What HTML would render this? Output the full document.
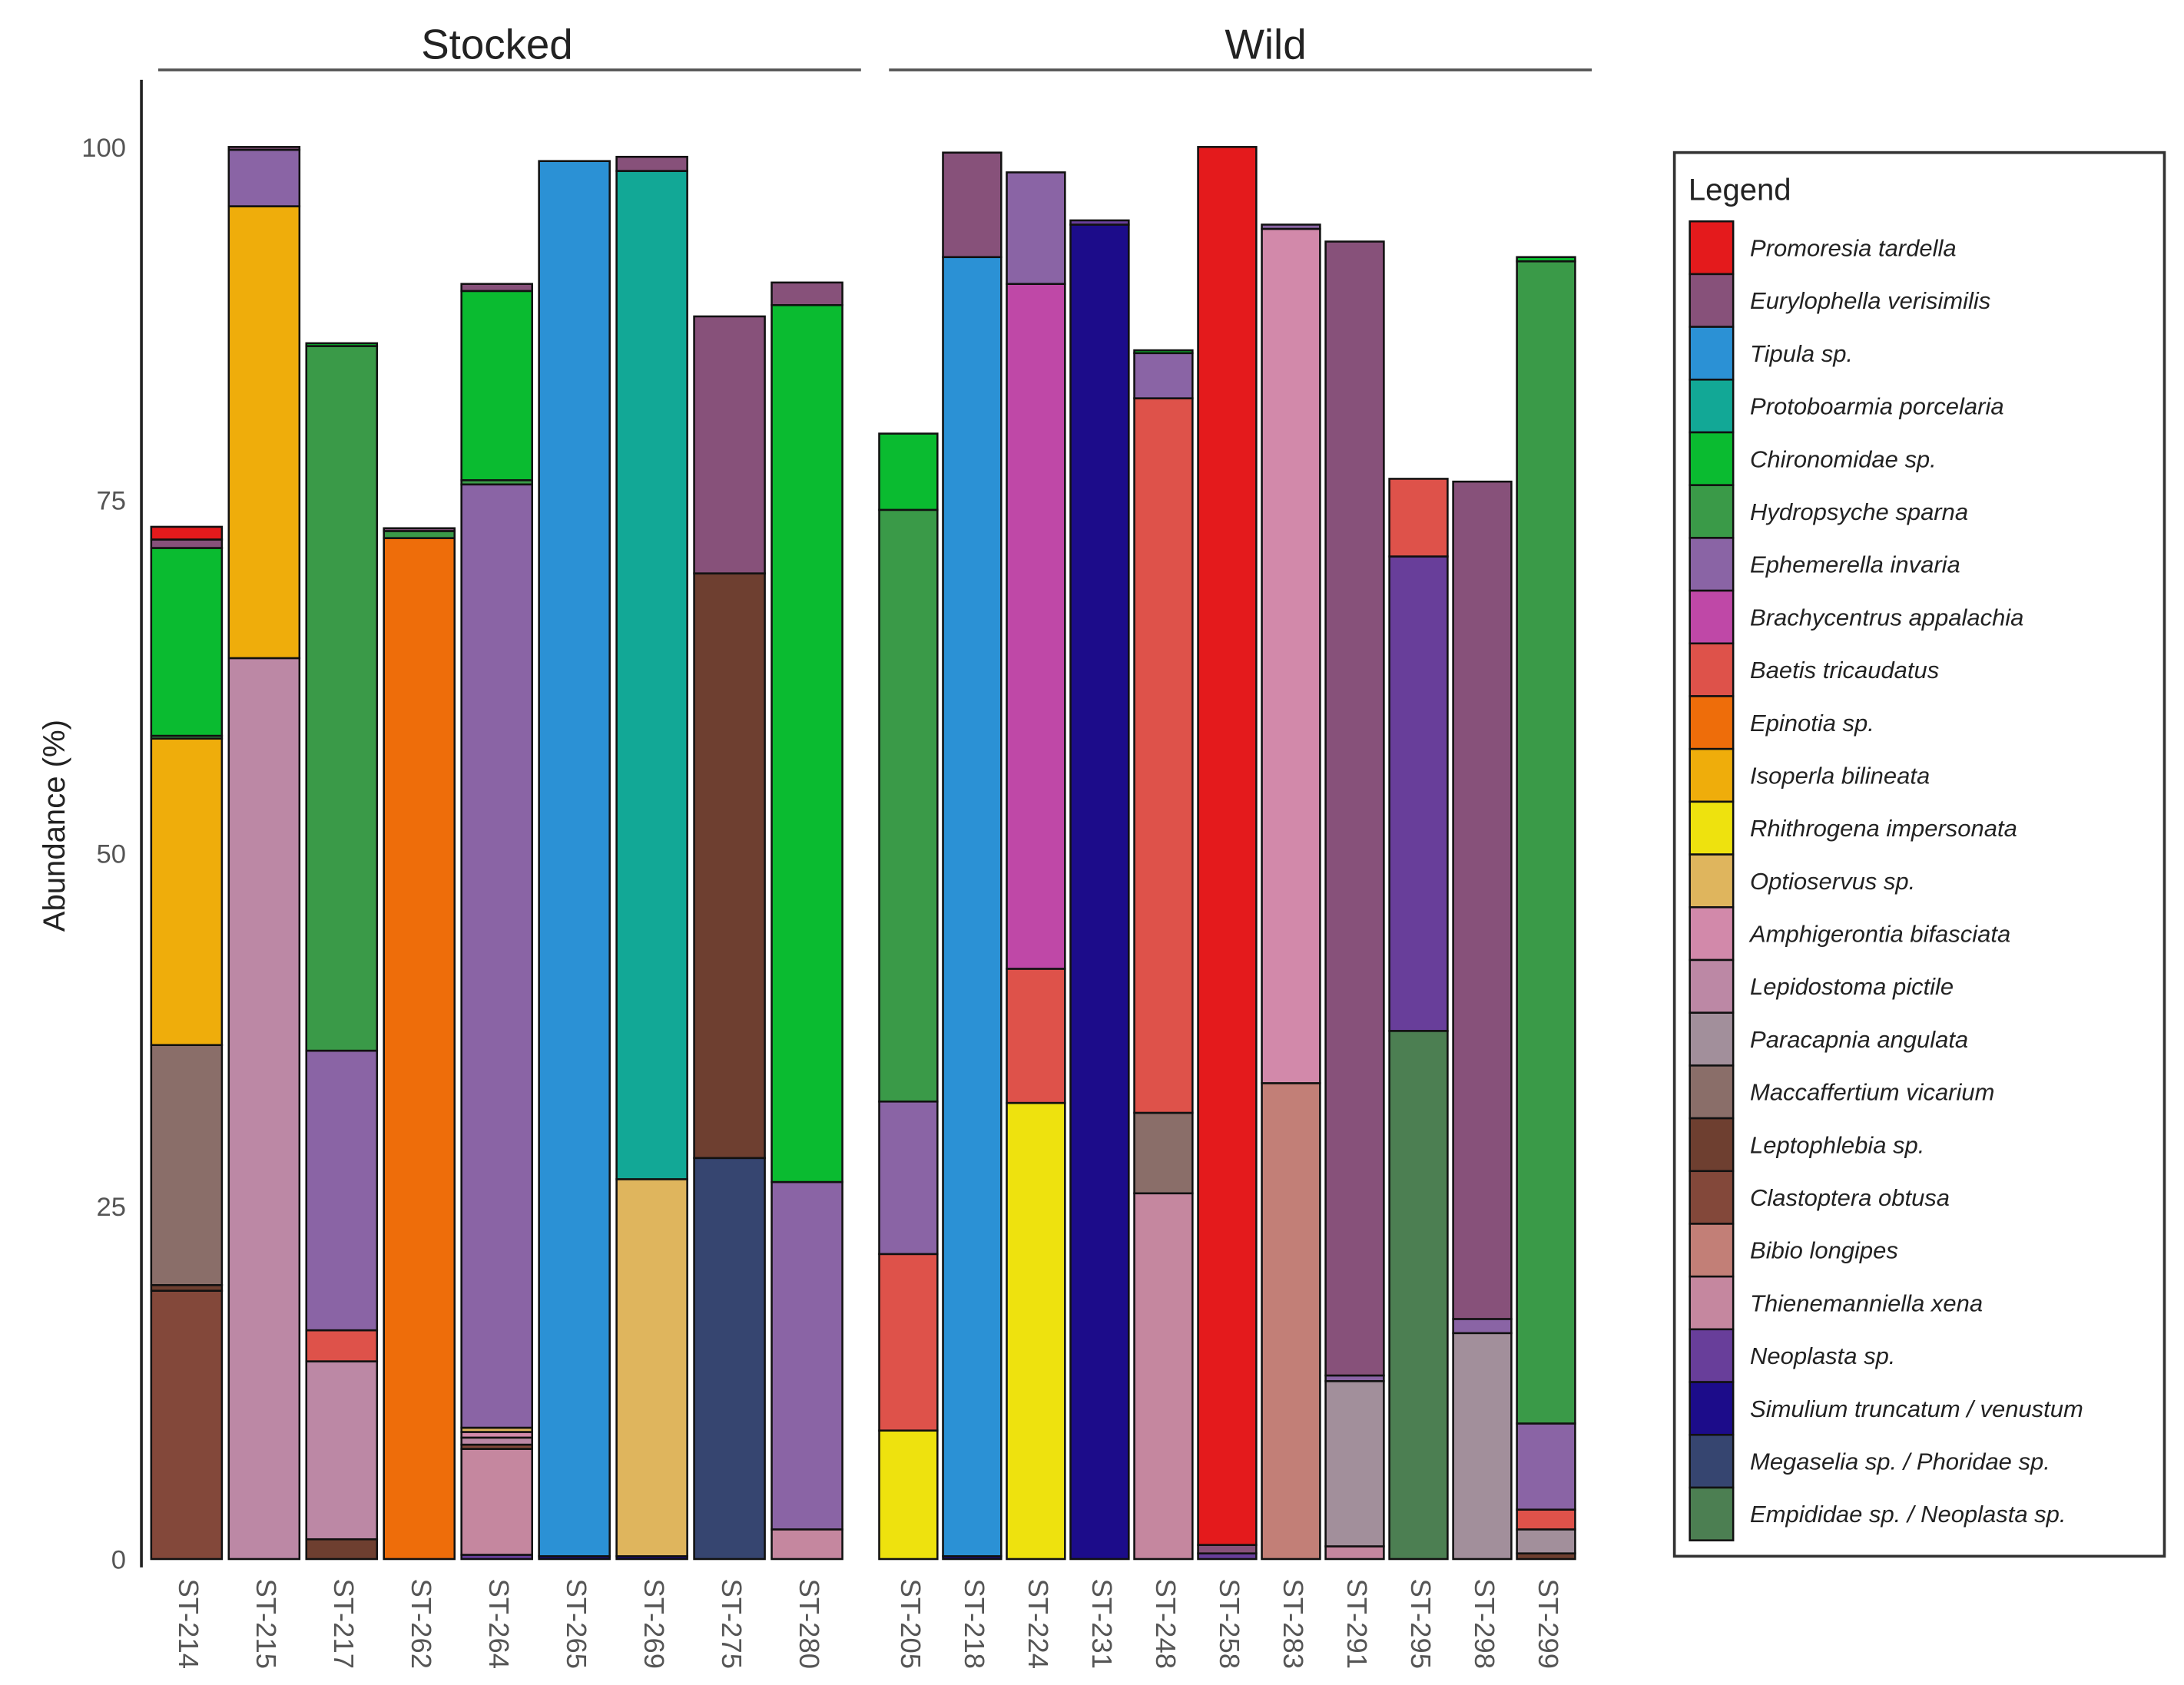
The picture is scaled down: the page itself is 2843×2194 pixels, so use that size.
<!DOCTYPE html>
<html><head><meta charset="utf-8"><style>
html,body{margin:0;padding:0;background:#fff;}
svg{display:block;font-family:"Liberation Sans",sans-serif;}
</style></head><body>
<svg id="chart" xmlns="http://www.w3.org/2000/svg" width="2843" height="2194" viewBox="0 0 1560 1204" preserveAspectRatio="none">
<text x="355" y="42" font-size="30" text-anchor="middle" fill="#222">Stocked</text>
<line x1="113" y1="50" x2="615" y2="50" stroke="#555" stroke-width="2"/>
<text x="904" y="42" font-size="30" text-anchor="middle" fill="#222">Wild</text>
<line x1="635" y1="50" x2="1137" y2="50" stroke="#555" stroke-width="2"/>
<line x1="101" y1="57" x2="101" y2="1120" stroke="#222" stroke-width="2"/>
<text transform="translate(46,590) rotate(-90)" font-size="22" text-anchor="middle" fill="#222">Abundance (%)</text>
<g id="yticks"></g><g id="bars"></g><g id="xlabels"></g>
<rect x="1196" y="109" width="350" height="1003" fill="#fff" stroke="#333" stroke-width="2"/>
<text x="1206" y="143" font-size="22" fill="#222">Legend</text>
<g id="legend"></g>
</svg>
<script>
const samples = ["ST-214","ST-215","ST-217","ST-262","ST-264","ST-265","ST-269","ST-275","ST-280","ST-205","ST-218","ST-224","ST-231","ST-248","ST-258","ST-283","ST-291","ST-295","ST-298","ST-299"];
const groups = ["Stocked","Stocked","Stocked","Stocked","Stocked","Stocked","Stocked","Stocked","Stocked","Wild","Wild","Wild","Wild","Wild","Wild","Wild","Wild","Wild","Wild","Wild"];
const yTicks = [0,25,50,75,100];
const species = ["Promoresia tardella","Eurylophella verisimilis","Tipula sp.","Protoboarmia porcelaria","Chironomidae sp.","Hydropsyche sparna","Ephemerella invaria","Brachycentrus appalachia","Baetis tricaudatus","Epinotia sp.","Isoperla bilineata","Rhithrogena impersonata","Optioservus sp.","Amphigerontia bifasciata","Lepidostoma pictile","Paracapnia angulata","Maccaffertium vicarium","Leptophlebia sp.","Clastoptera obtusa","Bibio longipes","Thienemanniella xena","Neoplasta sp.","Simulium truncatum / venustum","Megaselia sp. / Phoridae sp.","Empididae sp. / Neoplasta sp."];
const colors = ["#E41A1C","#87517A","#2B91D5","#12A896","#0ABB30","#3A9A48","#8A64A5","#BF48A7","#DE524A","#EE6D0A","#EFAD0B","#EEE20E","#DFB55D","#D289AA","#BC88A5","#A28F9B","#8A6E69","#6E3F30","#83483A","#C27F77","#C5879F","#683E9A","#1C0C8A","#364570","#4C7F52"];
// values per species, across samples (same order as samples)
const promoresia    = [0.9,0,0,0,0,0,0,0,0, 0,0,0,0,0,99,0,0,0,0,0];
const eurylophella  = [0.6,0.2,0,0.2,0.5,0,1.0,18.2,1.6, 0,7.4,0,0,0,0.6,0,80.3,0,59.3,0];
const tipula        = [0,0,0,0,0,98.8,0,0,0, 0,92.0,0,0,0,0,0,0,0,0,0];
const protoboarmia  = [0,0,0,0,0,0,71.4,0,0, 0,0,0,0,0,0,0,0,0,0,0];
const chironomidae  = [13.3,0,0.2,0,13.4,0,0,0,62.1, 5.4,0,0,0,0.2,0,0,0,0,0,0.3];
const hydropsyche   = [0.2,0,49.9,0.5,0.3,0,0,0,0, 41.9,0,0,0,0,0,0,0,0,0,82.3];
const ephemerella   = [0,4.0,19.8,0,66.8,0,0,0,24.6, 10.8,0,7.9,0,3.2,0,0.3,0.4,0,1.0,6.1];
const brachycentrus = [0,0,0,0,0,0,0,0,0, 0,0,48.5,0,0,0,0,0,0,0,0];
const baetis        = [0,0,2.2,0,0,0,0,0,0, 12.5,0,9.5,0,50.6,0,0,0,5.5,0,1.4];
const epinotia      = [0,0,0,72.3,0,0,0,0,0, 0,0,0,0,0,0,0,0,0,0,0];
const isoperla      = [21.7,32.0,0,0,0,0,0,0,0, 0,0,0,0,0,0,0,0,0,0,0];
const rhithrogena   = [0,0,0,0,0,0,0,0,0, 9.1,0,32.3,0,0,0,0,0,0,0,0];
const optioservus   = [0,0,0,0,0.3,0,26.7,0,0, 0,0,0,0,0,0,0,0,0,0,0];
const amphigerontia = [0,0,0,0,0.4,0,0,0,0, 0,0,0,0,0,0,60.5,0,0,0,0];
const lepidostoma   = [0,63.8,12.6,0,0.5,0,0,0,0, 0,0,0,0,0,0,0,0,0,0,0];
const paracapnia    = [0,0,0,0,0,0,0,0,0, 0,0,0,0,0,0,0,11.7,0,16.0,1.7];
const maccaffertium = [17.0,0,0,0,0,0,0,0,0, 0,0,0,0,5.7,0,0,0,0,0,0];
const leptophlebia  = [0.4,0,1.4,0,0,0,0,41.4,0, 0,0,0,0,0,0,0,0,0,0,0.4];
const clastoptera   = [19.0,0,0,0,0.3,0,0,0,0, 0,0,0,0,0,0,0,0,0,0,0];
const bibio         = [0,0,0,0,0,0,0,0,0, 0,0,0,0,0,0,33.7,0,0,0,0];
const thienemanniella=[0,0,0,0,7.5,0,0,0,2.1, 0,0,0,0,25.9,0,0,0.9,0,0,0];
const neoplasta     = [0,0,0,0,0.3,0,0,0,0, 0,0,0,0.3,0,0.4,0,0,33.6,0,0];
const simulium      = [0,0,0,0,0,0.2,0.2,0,0, 0,0.2,0,94.5,0,0,0,0,0,0,0];
const megaselia     = [0,0,0,0,0,0,0,28.4,0, 0,0,0,0,0,0,0,0,0,0,0];
const empididae     = [0,0,0,0,0,0,0,0,0, 0,0,0,0,0,0,0,0,37.4,0,0];
const series = [promoresia,eurylophella,tipula,protoboarmia,chironomidae,hydropsyche,ephemerella,brachycentrus,baetis,epinotia,isoperla,rhithrogena,optioservus,amphigerontia,lepidostoma,paracapnia,maccaffertium,leptophlebia,clastoptera,bibio,thienemanniella,neoplasta,simulium,megaselia,empididae];

const NS="http://www.w3.org/2000/svg";
function mk(t,a,p){const e=document.createElementNS(NS,t);for(const k in a)e.setAttribute(k,a[k]);p.appendChild(e);return e;}
function yScale(v){return 1114 - v*10.09;}
function xBand(i){
  const g=groups[i];
  const idx=groups.slice(0,i).filter(x=>x===g).length;
  if(g==="Stocked") return {x:108+idx*55.4,w:50.5};
  return {x:628+idx*45.55,w:41.6};
}
const yt=document.getElementById('yticks');
yTicks.forEach(t=>{
  const e=mk('text',{x:90,y:yScale(t)+7,'font-size':19,'text-anchor':'end',fill:'#555'},yt);
  
  
  e.textContent=t;
});
const bars=document.getElementById('bars');
const xl=document.getElementById('xlabels');
samples.forEach((s,i)=>{
  const b=xBand(i);
  let cum=0;
  for(let k=series.length-1;k>=0;k--){
    const v=series[k][i];
    if(!v) continue;
    const y0=yScale(cum), y1=yScale(cum+v);
    const r=mk('rect',{x:b.x,y:y1,width:b.w,height:Math.max(y0-y1,0.5),fill:colors[k],stroke:'#111','stroke-width':1.4},bars);
    
    
    cum+=v;
  }
  const cx=b.x+b.w/2;
  const t=mk('text',{x:cx,y:1128,'font-size':20,fill:'#555','dominant-baseline':'middle',transform:'rotate(90 '+cx+' 1128)'},xl);
  
  
  t.textContent=s;
});
const lg=document.getElementById('legend');
species.forEach((sp,i)=>{
  const yc=177+i*37.7;
  const r=mk('rect',{x:1207,y:yc-18.85,width:31,height:37.7,fill:colors[i],stroke:'#111','stroke-width':1.4},lg);
  
  
  const t=mk('text',{x:1250,y:yc+6,'font-size':17,'font-style':'italic',fill:'#222'},lg);
  
  
  t.textContent=sp;
});
</script>
</body></html>
